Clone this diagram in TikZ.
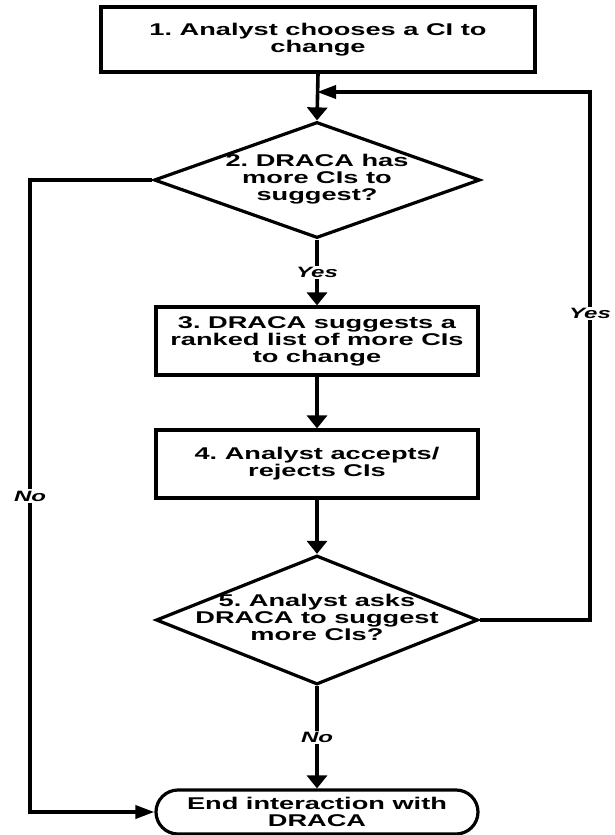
\documentclass[tikz,border=0pt]{standalone}
\usepackage{fontspec}
\setmainfont{Liberation Sans}[FakeStretch=1.6]
\usetikzlibrary{shapes.geometric,shapes.misc,arrows.meta}
\newcommand{\dtext}[1]{\makebox[0pt]{\raisebox{-4pt}[0pt][0pt]{\begin{tabular}[c]{@{}c@{}}#1\end{tabular}}}}
\frenchspacing
\begin{document}
\begin{tikzpicture}[x=1pt,y=-1pt,
  txt/.style={font=\fontsize{17}{17}\selectfont\bfseries, align=center},
  boxnode/.style={txt, draw, line width=3.2pt, rectangle, minimum width=322pt, minimum height=68pt, inner sep=0pt},
  decnode/.style={txt, draw, line width=3.2pt, diamond, inner sep=0pt},
  endnode/.style={txt, draw, line width=3.2pt, rounded rectangle, minimum width=322pt, minimum height=44pt, inner sep=0pt},
  conn/.style={line width=3.6pt},
  varr/.style={conn, -{Triangle[length=13pt,width=20pt]}},
  harr/.style={conn, -{Triangle[length=19pt,width=13pt]}},
  lbl/.style={font=\fontsize{15}{16}\selectfont\bfseries\itshape, fill=white, inner sep=1.5pt}
]
\useasboundingbox (0,0) rectangle (614,835);
\node[boxnode, minimum width=434pt, minimum height=65pt] (b1) at (318,39.5) {1. Analyst chooses a CI to\\change};
\node[decnode, minimum width=326pt, minimum height=116pt] (d2) at (317,180) {\dtext{2. DRACA has\\more CIs to\\suggest?}};
\node[boxnode] (b3) at (317,341) {3. DRACA suggests a\\ranked list of more CIs\\to change};
\node[boxnode] (b4) at (317,464) {4. Analyst accepts/\\rejects CIs};
\node[decnode, minimum width=322pt, minimum height=129pt] (d5) at (317,620) {\dtext{5. Analyst asks\\DRACA to suggest\\more CIs?}};
\node[endnode] (e) at (317,812) {End interaction with\\DRACA};

\coordinate (join) at (317,92);
\coordinate (jr) at (590,92);
\coordinate (c5) at (590,620);
\coordinate (cl1) at (30,180);
\coordinate (cl2) at (30,812);

\draw[varr] (b1.south) -- (d2.north);
\draw[varr] (d2.south) -- node[lbl] {Yes} (b3.north);
\draw[varr] (b3.south) -- (b4.north);
\draw[varr] (b4.south) -- (d5.north);
\draw[varr] (d5.south) -- node[lbl] {No} (e.north);
\draw[harr] (d5.east) -- (c5) -- node[lbl, pos=0.58] {Yes} (jr) -- (join);
\draw[harr] (d2.west) -- (cl1) -- node[lbl, pos=0.5] {No} (cl2) -- (e.west);
\end{tikzpicture}
\end{document}
